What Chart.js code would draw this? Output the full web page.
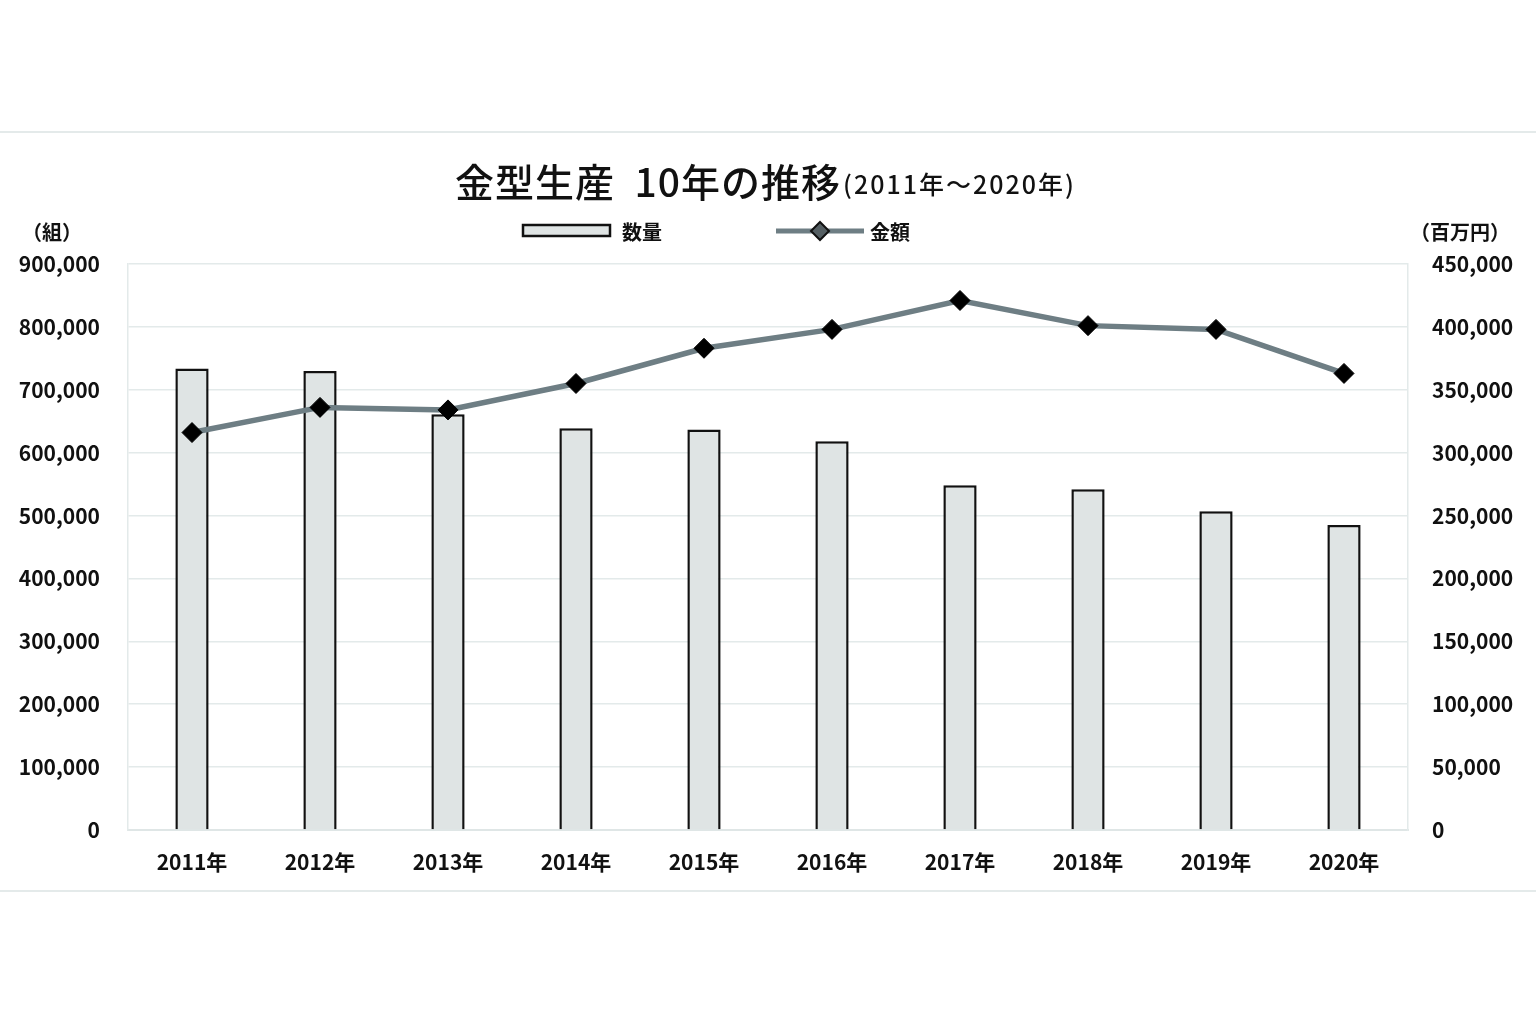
<!DOCTYPE html>
<html lang="ja">
<head>
    <meta charset="UTF-8">
    <title>金型生産 10年の推移</title>
    <script src="https://cdn.jsdelivr.net/npm/chart.js"></script>
    <style>
        html, body { margin: 0; padding: 0; background: #fff; }
        #wrap { width: 1536px; height: 1024px; }
    </style>
</head>
<body>
<div id="wrap"><canvas id="moldChart" width="1536" height="1024"></canvas></div>
<script>
    // データ
    const years = ['2011年', '2012年', '2013年', '2014年', '2015年', '2016年', '2017年', '2018年', '2019年', '2020年'];
    const quantity = [734000, 730000, 661000, 639000, 637000, 618000, 548000, 542000, 507000, 485000]; // 数量（組）
    const amount = [316000, 336000, 334000, 355000, 383000, 398000, 421000, 401000, 398000, 363000];   // 金額（百万円）

    const FONT = '"Liberation Sans Narrow", "Noto Sans CJK JP", sans-serif';
    const JP = '"Noto Sans CJK JP", sans-serif';
    const fmt = v => Number(v).toLocaleString('en-US');

    // タイトル・凡例・単位・枠線を描く
    const decor = {
        id: 'decor',
        afterDraw(chart) {
            const ctx = chart.ctx;
            ctx.save();
            // 上下の区切り線
            ctx.strokeStyle = '#e4eaea';
            ctx.lineWidth = 2;
            ctx.beginPath();
            ctx.moveTo(0, 132); ctx.lineTo(1536, 132);
            ctx.moveTo(0, 891); ctx.lineTo(1536, 891);
            ctx.stroke();

            // タイトル
            ctx.fillStyle = '#111';
            ctx.textBaseline = 'alphabetic';
            ctx.textAlign = 'left';
            const t1 = '金型生産  10年の推移';
            const t2 = '(2011年～2020年)';
            ctx.font = '500 39px ' + JP;
            ctx.letterSpacing = '1px';
            const w1 = ctx.measureText(t1).width;
            ctx.fillText(t1, 455, 197);
            ctx.font = '500 25px ' + JP;
            ctx.letterSpacing = '2px';
            ctx.fillText(t2, 455 + w1 + 2, 194);
            ctx.letterSpacing = '0px';

            // 凡例
            ctx.font = 'bold 20px ' + FONT;
            ctx.textBaseline = 'middle';
            ctx.fillStyle = '#dfe4e4';
            ctx.fillRect(523, 225, 87, 11);
            ctx.strokeStyle = '#111';
            ctx.lineWidth = 2.5;
            ctx.strokeRect(523, 225, 87, 11);
            ctx.fillStyle = '#111';
            ctx.fillText('数量', 622, 232);

            ctx.strokeStyle = '#6e7e84';
            ctx.lineWidth = 5;
            ctx.beginPath();
            ctx.moveTo(776, 231); ctx.lineTo(864, 231);
            ctx.stroke();
            ctx.fillStyle = '#555f63';
            ctx.strokeStyle = '#111';
            ctx.lineWidth = 2;
            ctx.beginPath();
            ctx.moveTo(820, 222); ctx.lineTo(829, 231); ctx.lineTo(820, 240); ctx.lineTo(811, 231); ctx.closePath();
            ctx.fill(); ctx.stroke();
            ctx.fillStyle = '#111';
            ctx.fillText('金額', 870, 232);

            // 単位
            ctx.font = 'bold 20px ' + FONT;
            ctx.textAlign = 'left';
            ctx.fillText('（組）', 22, 232);
            ctx.fillText('（百万円）', 1410, 232);
            ctx.restore();
        }
    };

    new Chart(document.getElementById('moldChart'), {
        data: {
            labels: years,
            datasets: [
                {
                    type: 'line',
                    label: '金額',
                    data: amount,
                    yAxisID: 'y2',
                    borderColor: '#6e7e84',
                    borderWidth: 5.5,
                    tension: 0,
                    pointStyle: 'rectRot',
                    pointRadius: 10,
                    pointBackgroundColor: '#000',
                    pointBorderColor: '#000',
                    pointBorderWidth: 1,
                    order: 0
                },
                {
                    type: 'bar',
                    label: '数量',
                    data: quantity,
                    yAxisID: 'y',
                    backgroundColor: '#dfe4e4',
                    borderColor: '#111',
                    borderWidth: 2.5,
                    borderSkipped: 'bottom',
                    barPercentage: 0.26,
                    categoryPercentage: 1,
                    order: 1
                }
            ]
        },
        options: {
            responsive: false,
            animation: false,
            layout: { padding: { top: 264, left: 0, right: 0, bottom: 0 } },
            plugins: {
                legend: { display: false },
                title: { display: false },
                tooltip: { enabled: false }
            },
            scales: {
                x: {
                    grid: { display: false },
                    border: { color: '#dfe6e6', width: 2 },
                    ticks: { color: '#111', font: { family: FONT, size: 21, weight: 'bold' }, padding: 11 },
                    afterFit(s) { s.height = 194; }
                },
                y: {
                    position: 'left',
                    min: 0, max: 900000,
                    grid: { color: '#e3eaea', lineWidth: 1.5, drawTicks: false },
                    border: { color: '#e3eaea', width: 1.5 },
                    ticks: {
                        stepSize: 100000,
                        color: '#111',
                        font: { family: FONT, size: 21, weight: 'bold' },
                        padding: 28,
                        callback: v => fmt(v)
                    },
                    afterFit(s) { s.width = 128; }
                },
                y2: {
                    position: 'right',
                    min: 0, max: 450000,
                    grid: { display: false, drawTicks: false },
                    border: { color: '#e3eaea', width: 1.5 },
                    ticks: {
                        stepSize: 50000,
                        color: '#111',
                        font: { family: FONT, size: 21, weight: 'bold' },
                        padding: 24,
                        callback: v => fmt(v)
                    },
                    afterFit(s) { s.width = 128; }
                }
            }
        },
        plugins: [decor]
    });
</script>
</body>
</html>
